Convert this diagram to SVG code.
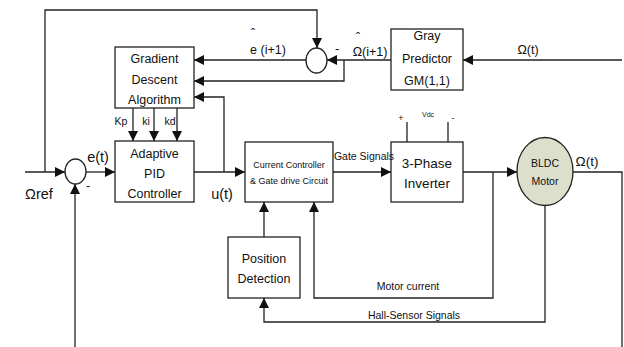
<svg xmlns="http://www.w3.org/2000/svg" width="624" height="347" viewBox="0 0 624 347">
<style>
.box{fill:#fff;stroke:#222;stroke-width:1.3}
.ln{fill:none;stroke:#222;stroke-width:1.3}
.arr{fill:none;stroke:#222;stroke-width:1.3;marker-end:url(#ah)}
text{font-family:"Liberation Sans",Arial,sans-serif;fill:#111;text-anchor:middle}
.t13{font-size:12.5px}
.t14{font-size:13.5px}
.t15{font-size:14.5px}
.t11{font-size:10.5px}
.t9{font-size:9px}
.t7{font-size:7px}
</style>
<defs>
<marker id="ah" markerUnits="userSpaceOnUse" markerWidth="10" markerHeight="10" refX="10" refY="5" orient="auto">
<path d="M0,0 L10,5 L0,10 z" fill="#111"/>
</marker>
</defs>
<rect width="624" height="347" fill="#fff"/>
<g id="connectors">
<path class="arr" d="M25,172 H65"/>
<path class="arr" d="M45,172 V10 H317 V48"/>
<path class="arr" d="M86,172 H115"/>
<path class="arr" d="M75,347 V184"/>
<path class="arr" d="M306,60 H194"/>
<path class="arr" d="M392,60 H327"/>
<path class="arr" d="M344,60 V81 H194"/>
<path class="arr" d="M224,172 V97 H194"/>
<path class="arr" d="M133,108 V141"/>
<path class="arr" d="M154,108 V141"/>
<path class="arr" d="M177,108 V141"/>
<path class="arr" d="M194,172 H245"/>
<path class="arr" d="M333,172 H391"/>
<path class="arr" d="M463,172 H517"/>
<path class="ln" d="M573,172 H622 V347"/>
<path class="arr" d="M622,60 H463"/>
<path class="ln" d="M407,122 V142"/>
<path class="ln" d="M448,122 V142"/>
<path class="arr" d="M493,172 V298 H314 V202"/>
<path class="arr" d="M545,206 V322 H264 V298"/>
<path class="arr" d="M264,237 V202"/>
</g>
<g id="sum2">
<ellipse cx="316.5" cy="60.5" rx="10.5" ry="12.5" class="box"/>
</g>
<g id="sum1">
<ellipse cx="75.5" cy="171.5" rx="10.5" ry="12.5" class="box"/>
</g>
<g id="gradient">
<rect x="115" y="47" width="79" height="61" class="box"/>
<text class="t13" x="154.5" y="63">Gradient</text>
<text class="t13" x="154.5" y="84">Descent</text>
<text class="t13" x="154.5" y="104">Algorithm</text>
</g>
<g id="pid">
<rect x="115" y="141" width="79" height="61" class="box"/>
<text class="t13" x="154.5" y="158">Adaptive</text>
<text class="t13" x="154.5" y="178">PID</text>
<text class="t13" x="154.5" y="198">Controller</text>
</g>
<g id="gray">
<rect x="391" y="29" width="72" height="61" class="box"/>
<text class="t13" x="427" y="40">Gray</text>
<text class="t13" x="427" y="63">Predictor</text>
<text class="t13" x="427" y="85">GM(1,1)</text>
</g>
<g id="current">
<rect x="245" y="142" width="88" height="60" class="box"/>
<text class="t9" x="289" y="168">Current Controller</text>
<text class="t9" x="289" y="184">&amp; Gate drive Circuit</text>
</g>
<g id="inverter">
<rect x="391" y="142" width="72" height="60" class="box"/>
<text class="t14" x="427" y="168">3-Phase</text>
<text class="t14" x="427" y="188">Inverter</text>
</g>
<g id="motor">
<ellipse cx="545" cy="171.5" rx="28" ry="34" fill="#dcdfcb" stroke="#222" stroke-width="1.3"/>
<text class="t11" x="545" y="167">BLDC</text>
<text class="t11" x="545" y="185">Motor</text>
</g>
<g id="position">
<rect x="228" y="237" width="72" height="61" class="box"/>
<text class="t13" x="264" y="263">Position</text>
<text class="t13" x="264" y="283">Detection</text>
</g>
<g id="labels">
<text class="t15" x="39" y="199">Ωref</text>
<text class="t13" x="88" y="190">-</text>
<text class="t15" x="98" y="162">e(t)</text>
<text class="t15" x="222" y="199">u(t)</text>
<text class="t11" x="121" y="125">Kp</text>
<text class="t11" x="146" y="125">ki</text>
<text class="t11" x="170" y="125">kd</text>
<text class="t13" x="253" y="38">ˆ</text>
<text class="t13" x="268" y="54">e (i+1)</text>
<text class="t13" x="337" y="53">-</text>
<text class="t13" x="358" y="42">ˆ</text>
<text class="t13" x="370" y="56">Ω(i+1)</text>
<text class="t13" x="528" y="54">Ω(t)</text>
<text class="t14" x="587" y="166">Ω(t)</text>
<text class="t11" x="364" y="160">Gate Signals</text>
<text class="t9" x="401" y="121">+</text>
<text class="t7" x="428" y="117">Vdc</text>
<text class="t9" x="453" y="121">-</text>
<text class="t11" x="408" y="290">Motor current</text>
<text class="t11" x="414" y="319">Hall-Sensor Signals</text>
</g>
</svg>
